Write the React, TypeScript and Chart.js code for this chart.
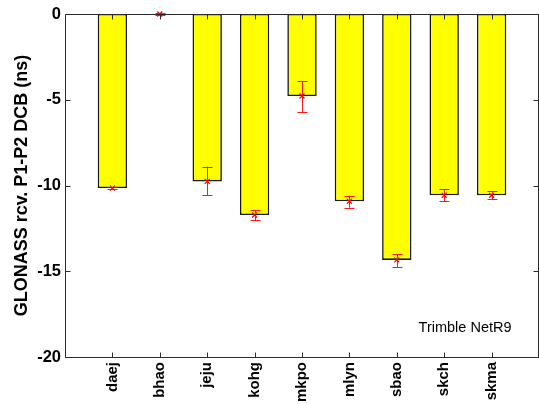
import React, { useEffect, useRef } from 'react';
import { Chart, registerables } from 'chart.js';

Chart.register(...registerables);

const stations = ['daej', 'bhao', 'jeju', 'kohg', 'mkpo', 'mlyn', 'sbao', 'skch', 'skma'];
const dcbValues = [-10.15, 0, -9.76, -11.72, -4.78, -10.92, -14.34, -10.57, -10.57];
const errLow = [-10.2, -0.05, -10.57, -12.03, -5.7, -11.29, -14.77, -10.9, -10.8];
const errHigh = [-10.1, 0.05, -8.9, -11.43, -3.92, -10.59, -14.01, -10.22, -10.32];
const yTickStep = 5;
const yMin = -20;
const yMax = 0;
const yTitle = 'GLONASS rcv. P1-P2 DCB (ns)';
const noteText = 'Trimble NetR9';
const notePos = { x: 7.46, y: -18.3 };

const FONT = "'Liberation Sans', Arial, Helvetica, sans-serif";

const matlabPlugin = {
  id: 'matlabPlugin',
  afterDatasetDraw(chart: any, args: any) {
    if (args.meta.type !== 'bar') return;
    const { ctx, scales } = chart;
    const x = scales.x;
    const y = scales.y;
    ctx.save();
    ctx.strokeStyle = 'rgba(255,0,0,0.9)';
    ctx.lineWidth = 1;
    for (let i = 0; i < stations.length; i++) {
      const px = Math.round(x.getPixelForValue(i + 1)) + 0.5;
      const yl = y.getPixelForValue(errLow[i]);
      const yh = y.getPixelForValue(errHigh[i]);
      ctx.beginPath();
      ctx.moveTo(px, yl);
      ctx.lineTo(px, yh);
      ctx.moveTo(px - 5, Math.round(yl) + 0.5);
      ctx.lineTo(px + 5, Math.round(yl) + 0.5);
      ctx.moveTo(px - 5, Math.round(yh) + 0.5);
      ctx.lineTo(px + 5, Math.round(yh) + 0.5);
      ctx.stroke();
    }
    ctx.restore();
  },
  afterDraw(chart: any) {
    const { ctx, chartArea: a, scales } = chart;
    const x = scales.x;
    const y = scales.y;
    ctx.save();
    ctx.strokeStyle = '#2a2a2a';
    ctx.lineWidth = 1;
    const L = Math.round(a.left) + 0.5;
    const R = Math.round(a.right) - 0.5;
    const T = Math.round(a.top) + 0.5;
    const B = Math.round(a.bottom) + 0.5;
    ctx.beginPath();
    ctx.moveTo(L, T);
    ctx.lineTo(R, T);
    ctx.lineTo(R, B);
    ctx.lineTo(L, B);
    ctx.closePath();
    ctx.stroke();
    ctx.beginPath();
    y.ticks.forEach((t: any) => {
      const py = Math.round(y.getPixelForValue(t.value)) + 0.5;
      ctx.moveTo(L, py);
      ctx.lineTo(L + 5, py);
      ctx.moveTo(R, py);
      ctx.lineTo(R - 5, py);
    });
    for (let i = 0; i < stations.length; i++) {
      const px = Math.round(x.getPixelForValue(i + 1)) + 0.5;
      ctx.moveTo(px, B);
      ctx.lineTo(px, B - 5);
      ctx.moveTo(px, T);
      ctx.lineTo(px, T + 5);
    }
    ctx.stroke();
    ctx.fillStyle = '#000';
    ctx.font = `14.5px ${FONT}`;
    ctx.textAlign = 'left';
    ctx.textBaseline = 'middle';
    ctx.fillText(noteText, x.getPixelForValue(notePos.x), y.getPixelForValue(notePos.y));
    ctx.restore();
  },
};

export default function App() {
  const ref = useRef<HTMLCanvasElement | null>(null);

  useEffect(() => {
    if (!ref.current) return;
    Chart.defaults.font.family = FONT;
    const chart = new Chart(ref.current, {
      type: 'bar',
      data: {
        datasets: [
          {
            type: 'scatter',
            order: 1,
            data: dcbValues.map((v, i) => ({ x: i + 1, y: v })),
            pointStyle: 'crossRot',
            radius: 3.5,
            borderColor: '#ff0000',
            backgroundColor: '#ff0000',
            borderWidth: 1.2,
            clip: false,
          } as any,
          {
            type: 'bar',
            order: 2,
            data: dcbValues.map((v, i) => ({ x: i + 1, y: v })),
            backgroundColor: '#ffff00',
            borderColor: '#1a1a1a',
            borderWidth: 1.6,
            borderSkipped: false,
            barPercentage: 0.62,
            categoryPercentage: 1,
          } as any,
        ],
      },
      options: {
        responsive: false,
        animation: false,
        devicePixelRatio: 1,
        layout: { autoPadding: false, padding: { top: 14, right: 0, left: 0, bottom: 0 } },
        plugins: { legend: { display: false }, tooltip: { enabled: false } },
        scales: {
          x: {
            type: 'linear',
            offset: false,
            min: 0,
            max: stations.length + 1,
            grid: {
              display: true,
              drawOnChartArea: false,
              drawTicks: true,
              tickLength: 5,
              color: 'rgba(0,0,0,0)',
              offset: false,
            },
            border: { display: false },
            ticks: {
              stepSize: 1,
              autoSkip: false,
              maxRotation: 90,
              minRotation: 90,
              padding: 0,
              color: '#000',
              font: { size: 15, weight: 'bold', family: FONT },
              callback: (v: any) => stations[Number(v) - 1] ?? '',
            },
            afterFit: (s: any) => {
              s.height = 47;
              s.paddingLeft = 0;
              s.paddingRight = 0;
            },
          },
          y: {
            type: 'linear',
            min: yMin,
            max: yMax,
            grid: { display: false, drawTicks: false },
            border: { display: false },
            ticks: {
              stepSize: yTickStep,
              padding: 4,
              color: '#000',
              font: { size: 16.5, weight: 'bold', family: FONT },
            },
            title: {
              display: true,
              text: yTitle,
              color: '#000',
              font: { size: 18, weight: 'bold', family: FONT },
              padding: { top: 11, bottom: 0 },
            },
            afterFit: (s: any) => {
              s.width = 65;
            },
          },
        },
      } as any,
      plugins: [matlabPlugin],
    });
    return () => chart.destroy();
  }, []);

  return (
    <div style={{ position: 'fixed', left: 0, top: 0, width: 539, height: 404, background: '#fff' }}>
      <canvas ref={ref} width={539} height={404} style={{ display: 'block' }} />
    </div>
  );
}
